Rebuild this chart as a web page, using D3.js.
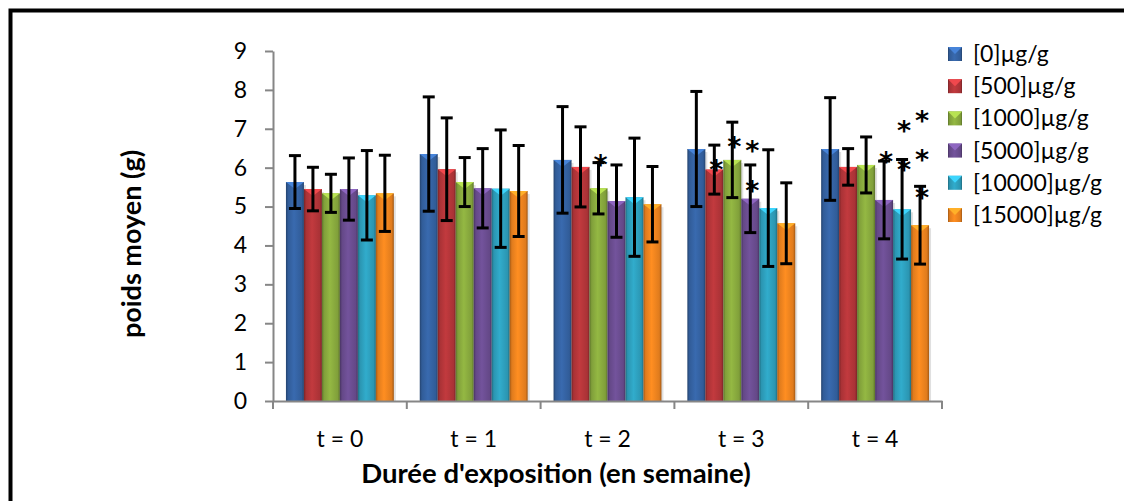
<!DOCTYPE html>
<html>
<head>
<meta charset="utf-8">
<script src="https://cdn.jsdelivr.net/npm/d3@7"></script>
<style>
  body { margin: 0; background: #fff; }
  svg { display: block; font-family: Lato, "Open Sans", sans-serif; }
</style>
</head>
<body>
<svg id="chart" width="1124" height="501"></svg>
<script>
// categories and series
var categories = ["t = 0", "t = 1", "t = 2", "t = 3", "t = 4"];
var seriesNames = ["[0]µg/g", "[500]µg/g", "[1000]µg/g", "[5000]µg/g", "[10000]µg/g", "[15000]µg/g"];
var seriesColors = ["#3563a3", "#b5363a", "#8aab3e", "#6b4d91", "#2ea0be", "#f0841f"];

// mean weight (g) per series, one value per week
var w0     = [5.63, 6.35, 6.20, 6.48, 6.48];
var w500   = [5.45, 5.96, 6.02, 5.95, 6.02];
var w1000  = [5.34, 5.63, 5.47, 6.20, 6.07];
var w5000  = [5.45, 5.47, 5.14, 5.20, 5.17];
var w10000 = [5.29, 5.46, 5.24, 4.96, 4.93];
var w15000 = [5.34, 5.40, 5.06, 4.57, 4.52];

// standard deviations
var e0     = [0.68, 1.47, 1.37, 1.48, 1.32];
var e500   = [0.56, 1.32, 1.03, 0.63, 0.47];
var e1000  = [0.49, 0.63, 0.66, 0.97, 0.72];
var e5000  = [0.80, 1.02, 0.93, 0.87, 1.00];
var e10000 = [1.15, 1.51, 1.52, 1.50, 1.28];
var e15000 = [0.98, 1.17, 0.97, 1.04, 1.00];

// significance stars: week index, series index, level (g)
var starWeek   = [2, 3, 3, 3, 3, 4, 4, 4, 4, 4, 4];
var starSeries = [2, 1, 2, 3, 3, 3, 4, 4, 5, 5, 5];
var starLevel  = [6.20, 6.07, 6.67, 6.55, 5.53, 6.28, 7.06, 6.06, 7.34, 6.32, 5.36];

var yTicks = [0, 1, 2, 3, 4, 5, 6, 7, 8, 9];

var means = [w0, w500, w1000, w5000, w10000, w15000];
var errs = [e0, e500, e1000, e5000, e10000, e15000];

var svg = d3.select("#chart");

// frame (left + top edge)
svg.append("path")
    .attr("d", "M10.5,501V10.5H1124")
    .attr("fill", "none")
    .attr("stroke", "#000")
    .attr("stroke-width", 4);

var x0 = d3.scaleBand()
    .domain(categories)
    .range([273, 942]);

var x1 = d3.scaleBand()
    .domain(d3.range(seriesNames.length))
    .range([0, x0.bandwidth()])
    .paddingOuter(0.72);

var y = d3.scaleLinear()
    .domain([0, 9])
    .range([401, 51]);

// gradients for the bevelled bars
var defs = svg.append("defs");
seriesColors.forEach(function (c, i) {
    var g = defs.append("linearGradient")
        .attr("id", "grad" + i)
        .attr("x1", 0).attr("x2", 1).attr("y1", 0).attr("y2", 0);
    var base = d3.color(c);
    g.append("stop").attr("offset", "0%").attr("stop-color", base.darker(1.1));
    g.append("stop").attr("offset", "12%").attr("stop-color", base.darker(0.2));
    g.append("stop").attr("offset", "45%").attr("stop-color", base.brighter(0.2));
    g.append("stop").attr("offset", "88%").attr("stop-color", base.darker(0.2));
    g.append("stop").attr("offset", "100%").attr("stop-color", base.darker(1.1));
});

var rows = [];
categories.forEach(function (cat, ci) {
    means.forEach(function (m, si) {
        rows.push({cat: cat, ci: ci, si: si, v: m[ci], e: errs[si][ci]});
    });
});

var barX = function (d) { return x0(d.cat) + x1(d.si); };
var bw = x1.bandwidth();

// soft shadow
svg.append("g").selectAll("rect")
    .data(rows)
    .enter()
    .append("rect")
    .attr("x", function (d) { return barX(d) + 2; })
    .attr("y", function (d) { return y(d.v) + 3; })
    .attr("width", bw)
    .attr("height", function (d) { return y(0) - y(d.v) - 3; })
    .attr("fill", "#000")
    .attr("opacity", 0.12);

svg.append("g").selectAll("rect")
    .data(rows)
    .enter()
    .append("rect")
    .attr("x", barX)
    .attr("y", function (d) { return y(d.v); })
    .attr("width", bw)
    .attr("height", function (d) { return y(0) - y(d.v); })
    .attr("fill", function (d) { return "url(#grad" + d.si + ")"; });

// light chevron on top of each bar
svg.append("g").selectAll("path")
    .data(rows)
    .enter()
    .append("path")
    .attr("d", function (d) {
        var l = barX(d), t = y(d.v);
        return "M" + l + "," + t + "H" + (l + bw) + "L" + (l + bw / 2) + "," + (t + 7) + "Z";
    })
    .attr("fill", function (d) { return d3.color(seriesColors[d.si]).brighter(0.8); });

// axes
var axisColor = "#868686";

var yAxis = svg.append("g")
    .attr("transform", "translate(273,0)")
    .call(d3.axisLeft(y).tickValues(yTicks).tickSize(8).tickPadding(18).tickSizeOuter(0));
yAxis.select(".domain").attr("stroke", axisColor).attr("stroke-width", 2);
yAxis.selectAll(".tick line").attr("stroke", axisColor).attr("stroke-width", 2);
yAxis.selectAll(".tick text")
    .attr("fill", "#000")
    .style("font-family", "Lato, sans-serif")
    .style("font-size", "23px");

var xAxis = svg.append("g")
    .attr("transform", "translate(0,401)")
    .call(d3.axisBottom(x0).tickSize(0).tickPadding(30));
xAxis.select(".domain").attr("stroke", axisColor).attr("stroke-width", 2);
xAxis.selectAll(".tick text")
    .attr("fill", "#000")
    .style("font-family", "Lato, sans-serif")
    .style("font-size", "23px");

// boundary ticks between weeks
var bounds = categories.map(function (c) { return x0(c); }).concat([x0.range()[1]]);
svg.append("g").selectAll("line")
    .data(bounds)
    .enter()
    .append("line")
    .attr("x1", function (d) { return d; })
    .attr("x2", function (d) { return d; })
    .attr("y1", 401)
    .attr("y2", 409)
    .attr("stroke", axisColor)
    .attr("stroke-width", 2);

// error bars
var eb = svg.append("g").attr("stroke", "#000").attr("stroke-width", 3);
rows.forEach(function (d) {
    var cx = barX(d) + bw / 2;
    eb.append("line")
        .attr("x1", cx).attr("x2", cx)
        .attr("y1", y(d.v + d.e)).attr("y2", y(d.v - d.e));
    [d.v + d.e, d.v - d.e].forEach(function (v) {
        eb.append("line")
            .attr("x1", cx - 6).attr("x2", cx + 6)
            .attr("y1", y(v)).attr("y2", y(v));
    });
});

// significance stars
svg.append("g").selectAll("text")
    .data(starLevel)
    .enter()
    .append("text")
    .attr("x", function (d, i) { return x0(categories[starWeek[i]]) + x1(starSeries[i]) + bw / 2 + 2; })
    .attr("y", function (d) { return y(d); })
    .attr("dy", 14)
    .attr("text-anchor", "middle")
    .style("font-family", "'DejaVu Sans', sans-serif")
    .style("font-weight", "bold")
    .style("font-size", "27px")
    .text("*");

// titles
svg.append("text")
    .attr("x", 556)
    .attr("y", 483)
    .attr("text-anchor", "middle")
    .style("font-weight", "bold")
    .style("font-size", "27.5px")
    .text("Durée d'exposition (en semaine)");

svg.append("text")
    .attr("transform", "translate(141,244) rotate(-90)")
    .attr("text-anchor", "middle")
    .style("font-weight", "bold")
    .style("font-size", "27px")
    .text("poids moyen (g)");

// legend
var legend = svg.append("g").selectAll("g")
    .data(seriesNames)
    .enter()
    .append("g")
    .attr("transform", function (d, i) { return "translate(948," + (47 + i * 32.2) + ")"; });

legend.append("rect")
    .attr("width", 14)
    .attr("height", 14)
    .attr("fill", function (d, i) { return "url(#grad" + i + ")"; });
legend.append("path")
    .attr("d", "M0,0H14L7,7Z")
    .attr("fill", function (d, i) { return d3.color(seriesColors[i]).brighter(0.8); });
legend.append("text")
    .attr("x", 25)
    .attr("y", 15)
    .style("font-size", "23px")
    .text(function (d) { return d; });
</script>
</body>
</html>
